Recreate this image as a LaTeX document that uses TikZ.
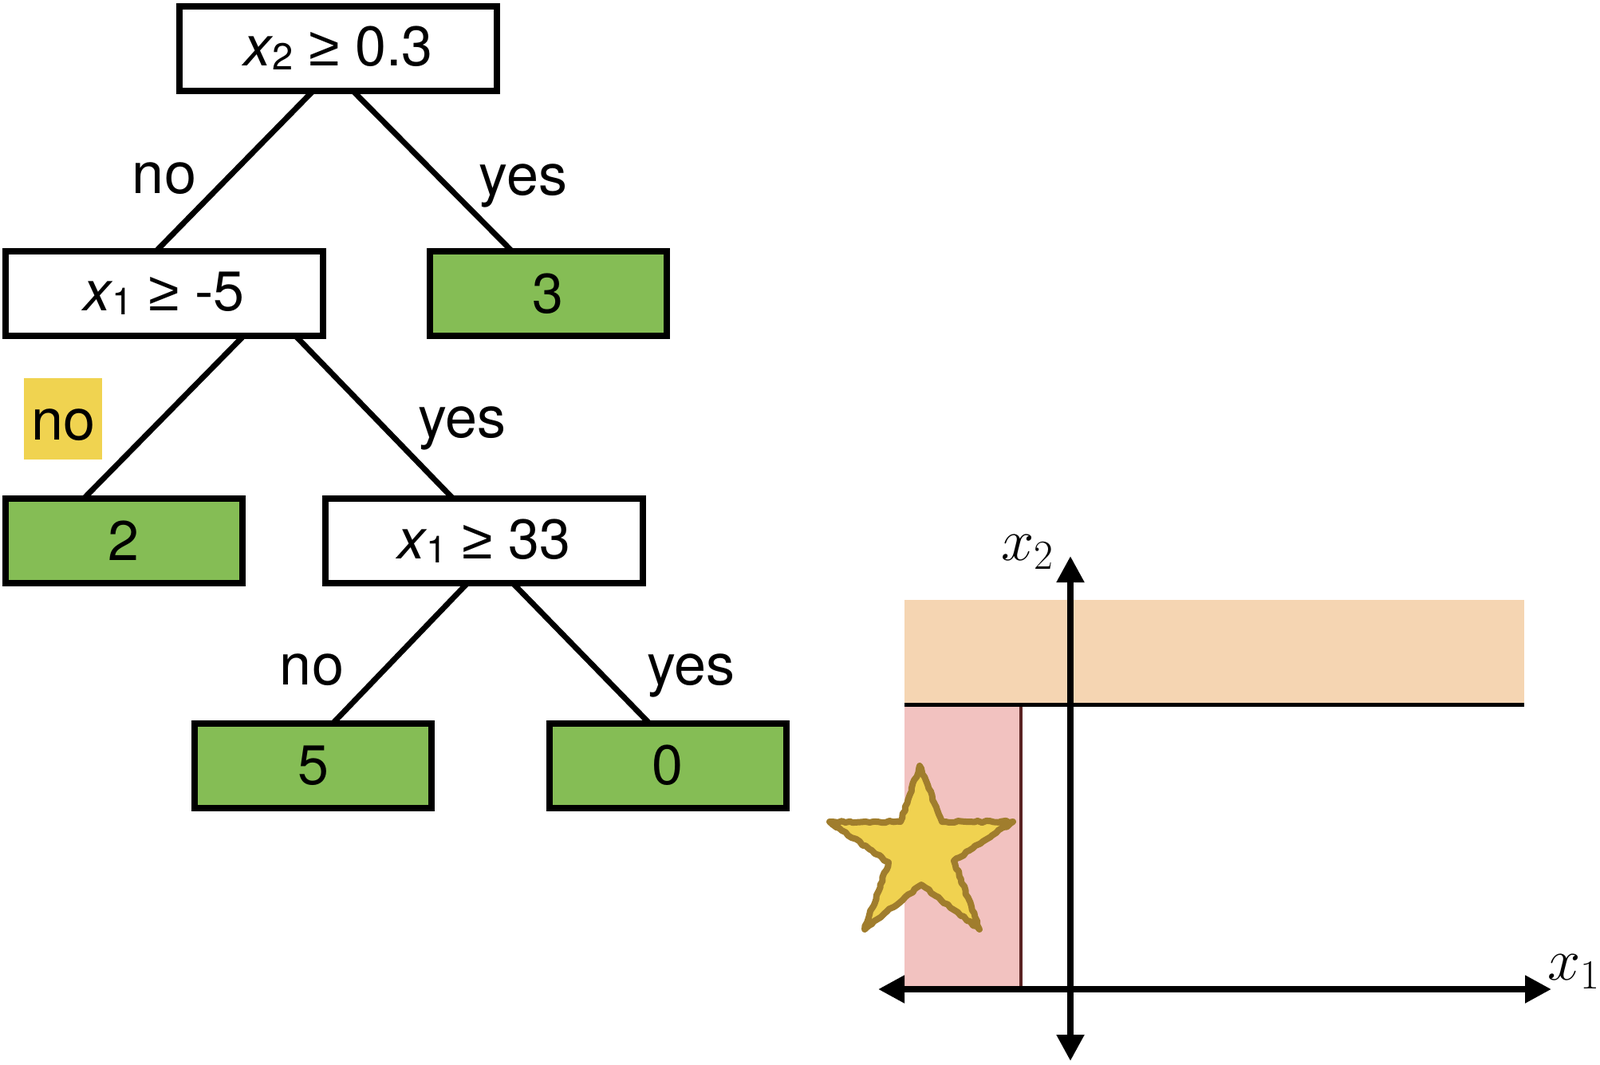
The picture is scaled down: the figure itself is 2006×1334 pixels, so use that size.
\RequirePackage{fix-cm}
\documentclass[tikz,border=0pt]{standalone}
\usepackage{fontspec}
\setmainfont{TeX Gyre Heros}
\newfontfamily\symfont{Liberation Sans}
\usetikzlibrary{arrows.meta,calc,decorations.pathmorphing}
\definecolor{leafgreen}{RGB}{133,189,85}
\definecolor{bandorange}{RGB}{245,213,178}
\definecolor{regionpink}{RGB}{242,194,192}
\definecolor{staryellow}{RGB}{240,210,80}
\definecolor{staredge}{RGB}{160,125,45}
\definecolor{darkred}{RGB}{90,35,35}
\definecolor{hlyellow}{RGB}{240,211,80}
\newcommand{\varsub}[2]{{\itshape #1}\kern0.5pt\raisebox{-0.07em}{\fontsize{23.5}{24}\selectfont #2}}
\newcommand{\geqsym}{{\symfont ≥}}
\begin{document}
\begin{tikzpicture}[x=0.5pt,y=-0.5pt,
  splitbox/.style={draw=black,line width=4pt,fill=white,minimum width=199pt,minimum height=53pt,inner sep=0pt,outer sep=0pt,font=\fontsize{35}{40}\selectfont},
  leafbox/.style={splitbox,fill=leafgreen,minimum width=148.5pt},
  branch/.style={line width=3.5pt},
  branchlabel/.style={anchor=base,inner sep=0pt,font=\fontsize{36}{40}\selectfont},
  axislabel/.style={inner sep=0pt,font=\fontsize{37}{40}\selectfont},
  axis/.style={line width=4pt,{Triangle[length=16.5pt,width=16.5pt]}-{Triangle[length=16.5pt,width=16.5pt]}},
]
\useasboundingbox (0,0) rectangle (2006,1334);

% tree nodes
\node[splitbox] (root) at (424,60.5) {\varsub{x}{2} \geqsym{} 0.3};
\node[splitbox] (left) at (205.5,368) {\varsub{x}{1} \geqsym{} -5};
\node[leafbox] (leafthree) at (687,368) {3};
\node[leafbox] (leaftwo) at (155,678) {2};
\node[splitbox] (right) at (607,678) {\varsub{x}{1} \geqsym{} 33};
\node[leafbox] (leaffive) at (392.5,959.5) {5};
\node[leafbox] (leafzero) at (837,959.5) {0};

% branches
\draw[branch] ($(root.south)+(-31,0)$) -- ($(left.north)+(-10,0)$);
\draw[branch] ($(root.south)+(18,0)$) -- ($(leafthree.north)+(-45,0)$);
\draw[branch] ($(left.south)+(100,0)$) -- ($(leaftwo.north)+(-50,0)$);
\draw[branch] ($(left.south)+(165,0)$) -- ($(right.north)+(-39,0)$);
\draw[branch] ($(right.south)+(-21,0)$) -- ($(leaffive.north)+(25,0)$);
\draw[branch] ($(right.south)+(36,0)$) -- ($(leafzero.north)+(-23,0)$);

% branch labels
\node[branchlabel] (lblrootno) at (206,242) {no};
\node[branchlabel] (lblrootyes) at (656,244) {yes};
\fill[hlyellow] (30,474) rectangle (128,576);
\node[branchlabel] (lblleftno) at (79.5,551) {no};
\node[branchlabel] (lblleftyes) at (579.5,548) {yes};
\node[branchlabel] (lblrightno) at (391,858) {no};
\node[branchlabel] (lblrightyes) at (866.5,858) {yes};

% feature space
\fill[bandorange] (1134,752) rectangle (1911,883);
\fill[regionpink] (1134,883) rectangle (1282,1240);
\draw[darkred,line width=2pt] (1280,883) -- (1280,1238);
\draw[line width=2.5pt] (1134,883) -- (1911,883);

\fill[staryellow]
  (1153,960) -- (1181,1030) -- (1270,1030) -- (1196,1079) -- (1228,1165)
  -- (1155,1109) -- (1084,1165) -- (1114,1081) -- (1040,1030) -- (1129,1030) -- cycle;
\draw[staredge,line width=4pt,line join=round,
      decorate,decoration={random steps,segment length=2.5pt,amplitude=0.6pt}]
  (1153,960) -- (1181,1030) -- (1270,1030) -- (1196,1079) -- (1228,1165)
  -- (1155,1109) -- (1084,1165) -- (1114,1081) -- (1040,1030) -- (1129,1030) -- cycle;

\coordinate (xleft) at (1101,1240);
\coordinate (xright) at (1945,1240);
\coordinate (ybottom) at (1342,1330);
\coordinate (ytop) at (1342,697);
\draw[axis] (xleft) -- (xright);
\draw[axis] (ybottom) -- (ytop);

\node[axislabel] (xonelabel) at (1973,1218) {$x_1$};
\node[axislabel] (xtwolabel) at (1288,692) {$x_2$};
\end{tikzpicture}
\end{document}
